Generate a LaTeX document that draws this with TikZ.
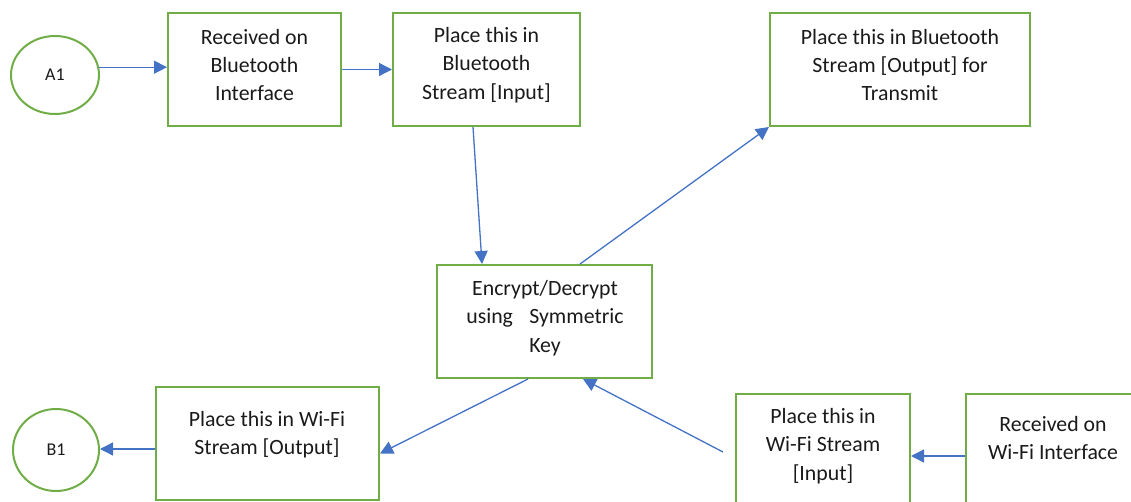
\documentclass[tikz,border=0pt]{standalone}
\usepackage{fontspec}
\setmainfont{Carlito}
\usetikzlibrary{arrows.meta,shapes.geometric}
\definecolor{bordergreen}{HTML}{70AD47}
\definecolor{arrowblue}{HTML}{4472C4}
\definecolor{textgrey}{HTML}{1A1A1A}
\tikzset{
  ell/.style={ellipse,draw=bordergreen,line width=2pt,inner sep=0pt,text=textgrey,font=\fontsize{18}{20}\selectfont},
  boxshape/.style={rectangle,draw=bordergreen,line width=2pt,inner sep=0pt,minimum height=113pt},
  txt/.style={align=center,inner sep=0pt,text=textgrey,font=\fontsize{21.8}{28.3}\selectfont},
  arr/.style={draw=arrowblue,line width=1.3pt,-{Triangle[length=13pt,width=13pt]}}
}
\begin{document}
\begin{tikzpicture}[x=1pt,y=-1pt]
\useasboundingbox (0,0) rectangle (1131,502);
\clip (0,0) rectangle (1131,502);
% ellipses
\node[ell,minimum width=88pt,minimum height=78pt] (A1) at (55,75) {A1};
\node[ell,minimum width=86pt,minimum height=82pt] (B1) at (56,450) {B1};
% boxes
\node[boxshape,minimum width=173pt] (r1) at (254.5,69.5) {};
\node[boxshape,minimum width=187pt] (r2) at (486.5,69.5) {};
\node[boxshape,minimum width=260pt] (r3) at (900,69.5) {};
\node[boxshape,minimum width=215pt] (r4) at (544.5,321.5) {};
\node[boxshape,minimum width=223pt] (r5) at (267.5,443.5) {};
\node[boxshape,minimum width=174pt] (r6) at (823,450.5) {};
\node[boxshape,minimum width=174pt] (r7) at (1053,450.5) {};
% texts
\node[txt] (t1) at (254.5,65) {Received on\\Bluetooth\\Interface};
\node[txt] (t2) at (486.5,65) {Place this in\\Bluetooth\\Stream [Input]};
\node[txt] (t3) at (900,65) {Place this in Bluetooth\\Stream [Output] for\\Transmit};
\node[txt] (t4) at (545,318) {Encrypt/Decrypt\\using\hspace{0.75em}Symmetric\\Key};
\node[txt] (t5) at (267,435) {Place this in Wi-Fi\\Stream [Output]};
\node[txt] (t6) at (823,446) {Place this in\\Wi-Fi Stream\\{}[Input]};
\node[txt] (t7) at (1053,438) {Received on\\Wi-Fi Interface};
% connector ends
\coordinate (c6) at (723,452);
\coordinate (sA) at (A1.10);
\coordinate (s7) at ([yshift=-5.5pt]r7.west);
\coordinate (s5) at ([yshift=-5.5pt]r5.west);
% connectors
\draw[arr] (sA) -- (r1.west |- sA);
\draw[arr] (r1.east) -- (r2.west);
\draw[arr] ([xshift=-13.5pt]r2.south) -- ([xshift=-62.5pt]r4.north);
\draw[arr] ([xshift=35.5pt]r4.north) -- (r3.south west);
\draw[arr] ([xshift=-16.5pt]r4.south) -- ([yshift=-10pt]r5.east);
\draw[arr] (c6) -- ([xshift=38.5pt]r4.south);
\draw[arr] (s7) -- (r6.east |- s7);
\draw[arr] (s5) -- (B1.east |- s5);
\end{tikzpicture}
\end{document}
